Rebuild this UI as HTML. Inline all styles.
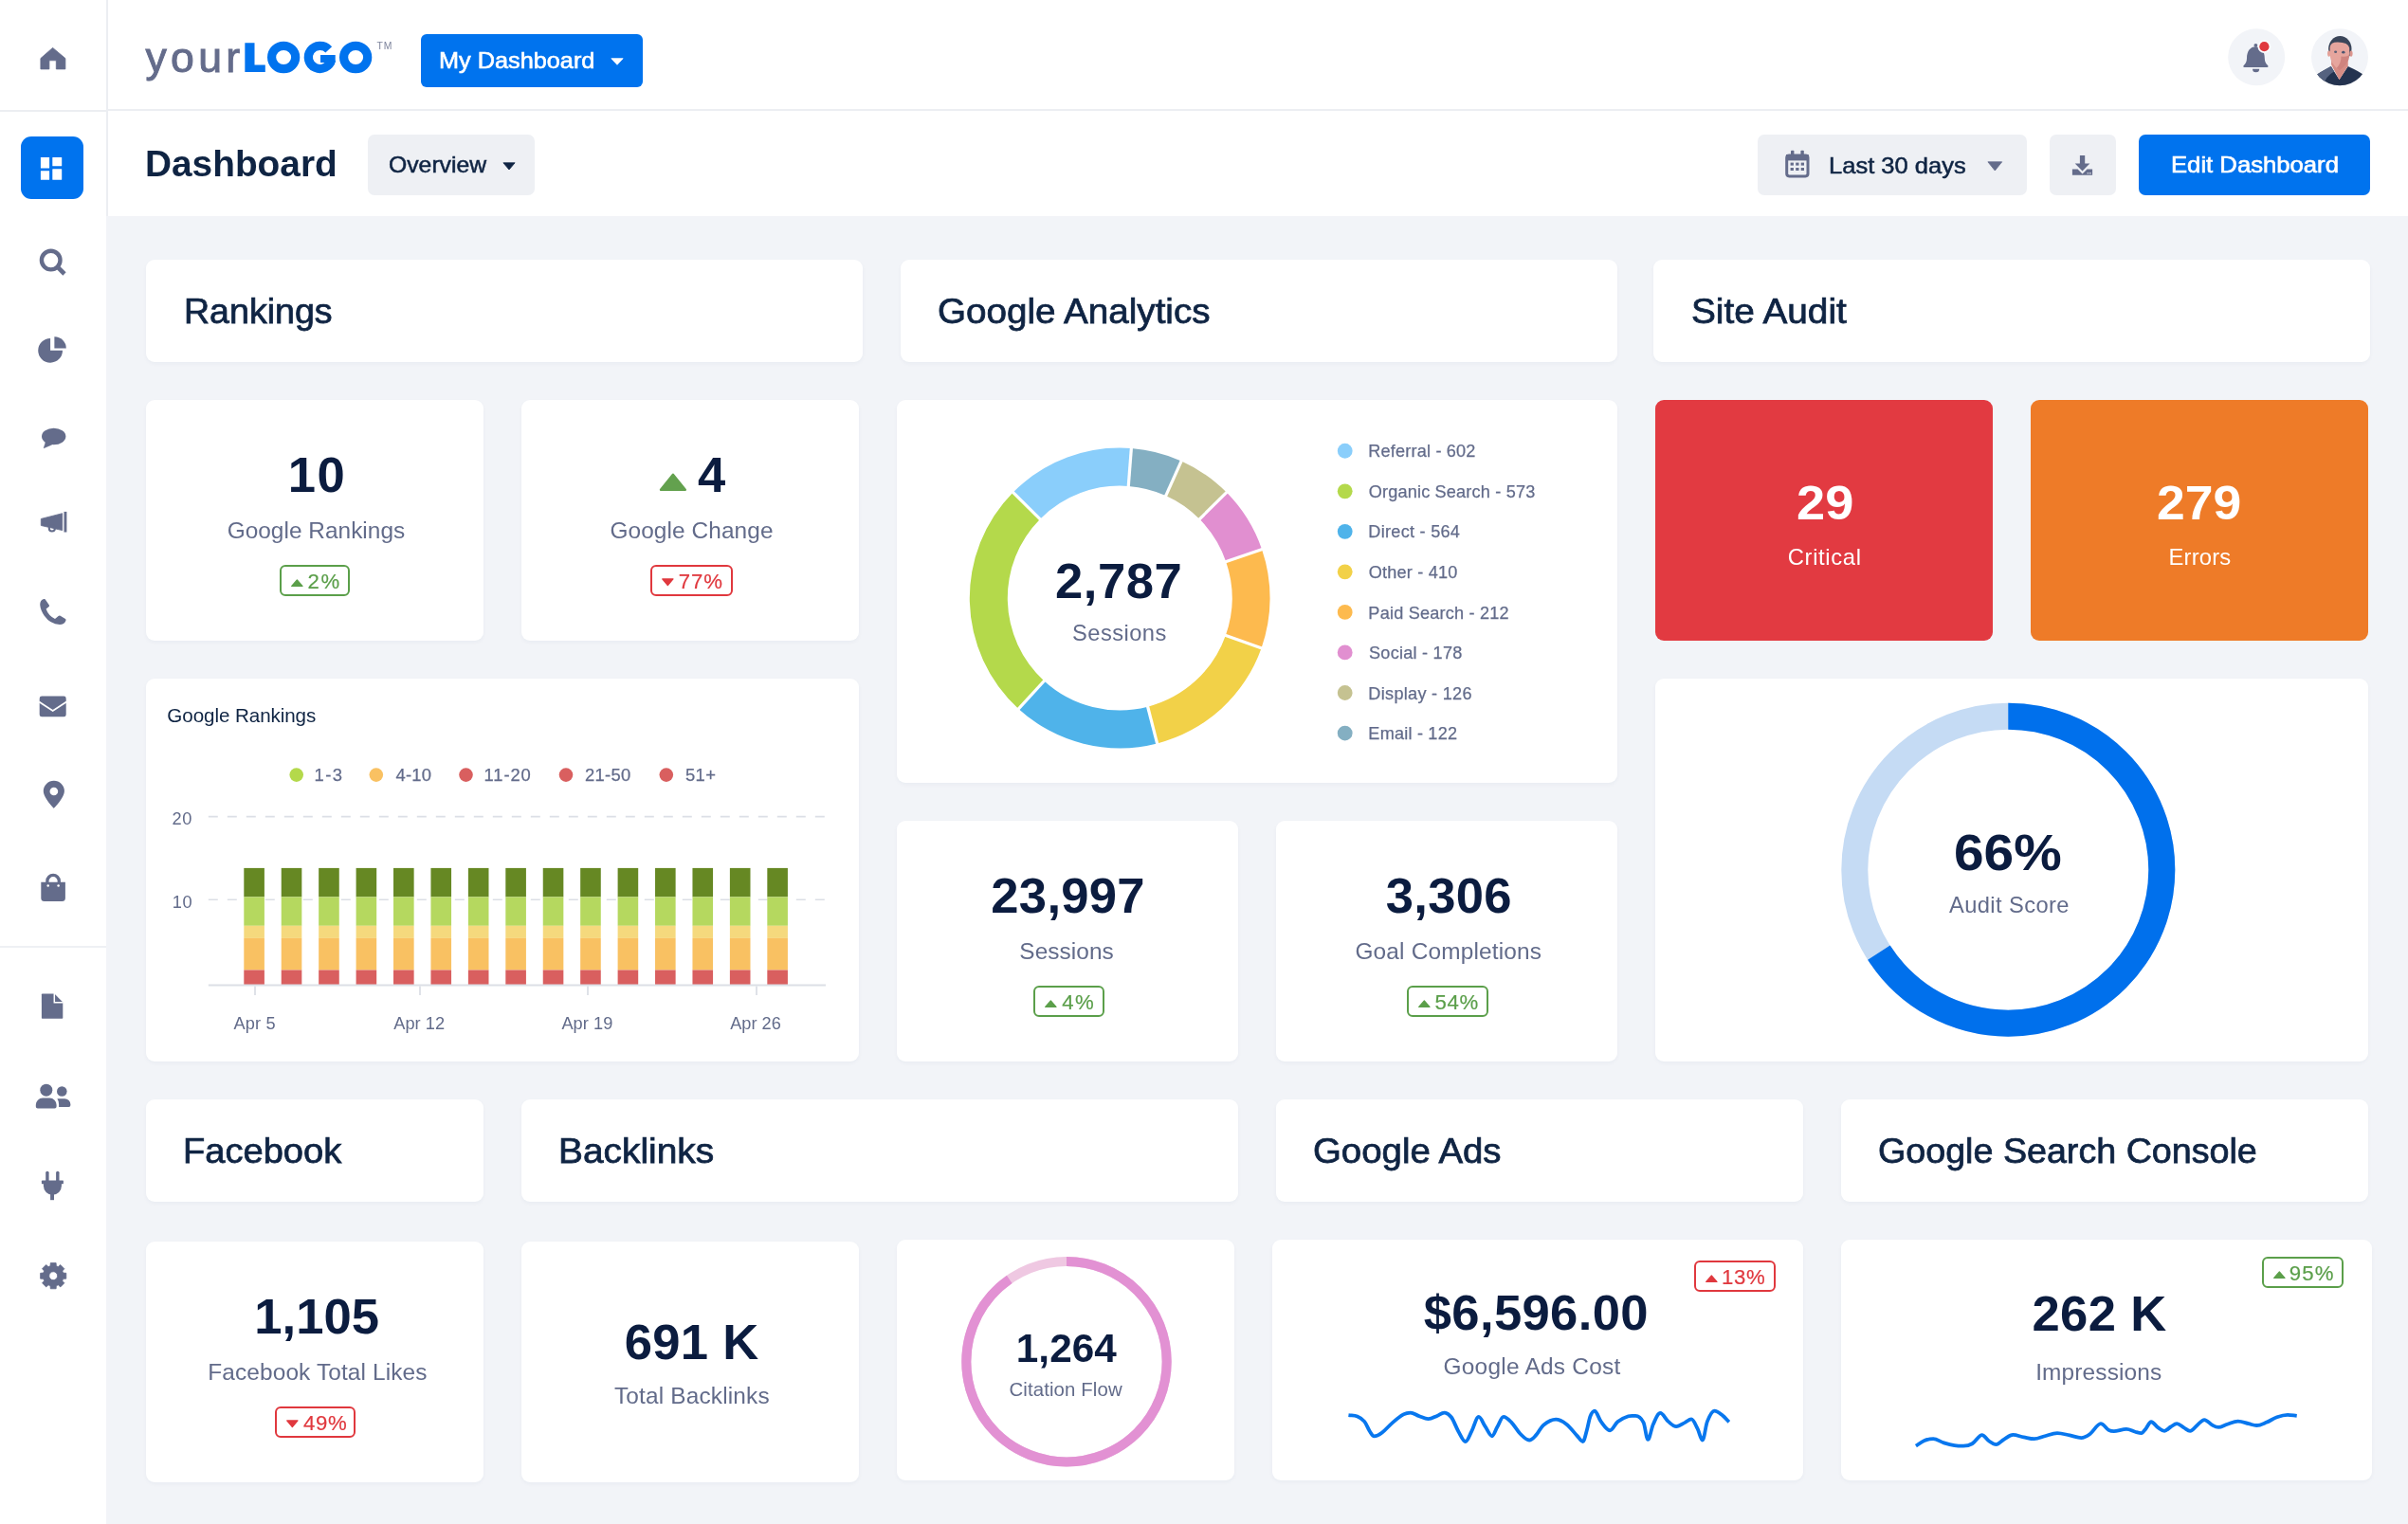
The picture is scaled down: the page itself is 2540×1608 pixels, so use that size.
<!DOCTYPE html>
<html lang="en"><head><meta charset="utf-8"><title>Dashboard</title>
<style>
*{box-sizing:border-box;margin:0;padding:0}
html,body{width:2540px;height:1608px;overflow:hidden;background:#f2f4f8;font-family:"Liberation Sans",sans-serif;}
#app{position:relative;width:2540px;height:1608px;overflow:hidden;background:#f2f4f8;will-change:transform}
.abs{position:absolute}
.t{position:absolute;white-space:nowrap}
.card{position:absolute;background:#fff;border-radius:9px;box-shadow:0 2px 4px rgba(30,50,90,.04)}
.badge{position:absolute;border:2px solid;border-radius:6px;background:#fff}
aside{position:absolute;left:0;top:0;width:112px;height:1608px;background:#fff}
header{position:absolute;left:112px;top:0;width:2428px;height:117px;background:#fff;border-bottom:2px solid #eceef2}
.sub{position:absolute;left:112px;top:117px;width:2428px;height:111px;background:#fff}
.btn{position:absolute;border-radius:7px}
svg{position:absolute;overflow:visible}
</style></head><body><div id="app">
<header></header><div class="sub"></div><aside></aside>
<div class="abs" style="left:112px;top:0;width:2px;height:228px;background:#eceef2"></div>
<div class="abs" style="left:0;top:116px;width:112px;height:2px;background:#eceef2"></div>
<div class="abs" style="left:0;top:998px;width:112px;height:2px;background:#eef0f4"></div>
<div class="abs" style="left:22px;top:144px;width:66px;height:66px;border-radius:11px;background:#0073ee"></div>
<div class="t" style="top:38.75px;font-size:44.6px;line-height:44.6px;color:#646c8b;-webkit-text-stroke:0.95px #646c8b;letter-spacing:4.300px;left:153.50px;"><span>your</span></div>
<svg style="left:0;top:0" width="440" height="110" viewBox="0 0 440 110">
<path d="M258.35 45.2 H268.5 V68.5 H279.8 V75.9 H258.35 Z" fill="#0073ee"/>
<ellipse cx="299.15" cy="60.5" rx="12.55" ry="12.15" fill="none" stroke="#0073ee" stroke-width="9.2"/>
<ellipse cx="375.15" cy="60.5" rx="12.55" ry="12.15" fill="none" stroke="#0073ee" stroke-width="9.2"/>
<path d="M346.74 52.27 A12.3 12.1 0 1 0 349.63 63.06" fill="none" stroke="#0073ee" stroke-width="9.2"/>
<path d="M338 58 H353.7 V64 Q353.5 66.5 352.3 68.5 L345 66 V66.1 H338 Z" fill="#0073ee"/>
</svg>
<div class="t" style="top:43.95px;font-size:10.4px;line-height:10.4px;color:#7d849c;letter-spacing:0.834px;left:397.46px;"><span>TM</span></div>
<div class="btn" style="left:444px;top:36px;width:234px;height:56px;background:#0073ee;border-radius:6px"></div>
<div class="t" style="top:52.70px;font-size:23.6px;line-height:23.6px;color:#fff;-webkit-text-stroke:0.6px #fff;left:463.46px;transform:scaleX(1.0712);transform-origin:0 0;"><span>My Dashboard</span></div>
<svg style="left:643.5px;top:61px" width="14" height="8" viewBox="0 0 14 8"><path d="M0.9 0.7 H13.1 L7 7.3 Z" fill="#fff" stroke="#fff" stroke-width="0.8" stroke-linejoin="round"/></svg>
<div class="t" style="top:154.10px;font-size:38.3px;line-height:38.3px;color:#0f2443;font-weight:700;left:153.40px;transform:scaleX(1.0133);transform-origin:0 0;"><span>Dashboard</span></div>
<div class="btn" style="left:388px;top:142px;width:176px;height:64px;background:#eef0f4"></div>
<div class="t" style="top:162.85px;font-size:23.2px;line-height:23.2px;color:#0f2443;-webkit-text-stroke:0.5px #0f2443;left:410.22px;transform:scaleX(1.0672);transform-origin:0 0;"><span>Overview</span></div>
<svg style="left:529.6px;top:171px" width="14" height="9" viewBox="0 0 14 9"><path d="M0.9 0.8 H13.1 L7 8 Z" fill="#0f2443" stroke="#0f2443" stroke-width="0.8" stroke-linejoin="round"/></svg>
<div class="btn" style="left:1854px;top:142px;width:284px;height:64px;background:#eef0f4"></div>
<div class="t" style="top:163.85px;font-size:23.2px;line-height:23.2px;color:#0f2443;-webkit-text-stroke:0.5px #0f2443;left:1928.98px;transform:scaleX(1.1005);transform-origin:0 0;"><span>Last 30 days</span></div>
<svg style="left:2096px;top:169.8px" width="17" height="11" viewBox="0 0 17 11"><path d="M0.9 0.8 H15.7 L8.3 10 Z" fill="#646c8b" stroke="#646c8b" stroke-width="0.8" stroke-linejoin="round"/></svg>
<div class="btn" style="left:2162px;top:142px;width:70px;height:64px;background:#eef0f4"></div>
<div class="btn" style="left:2256px;top:142px;width:244px;height:64px;background:#0073ee"></div>
<div class="t" style="top:163.25px;font-size:23.4px;line-height:23.4px;color:#fff;-webkit-text-stroke:0.6px #fff;left:2289.67px;transform:scaleX(1.0974);transform-origin:0 0;"><span>Edit Dashboard</span></div>
<svg style="left:0;top:0" width="2540" height="230" viewBox="0 0 2540 230">
<g fill="#646c8b">
<rect x="1884.7" y="163.9" width="22.3" height="22" rx="2.6" fill="none" stroke="#646c8b" stroke-width="3"/>
<rect x="1884" y="163" width="23.7" height="6.4"/>
<rect x="1889" y="158.7" width="3.4" height="6" rx="0.8"/><rect x="1899.4" y="158.7" width="3.4" height="6" rx="0.8"/>
<rect x="1888.6" y="171.6" width="3.3" height="3"/><rect x="1894.2" y="171.6" width="3.3" height="3"/><rect x="1899.7" y="171.6" width="3.3" height="3"/>
<rect x="1888.6" y="177" width="3.3" height="3"/><rect x="1894.2" y="177" width="3.3" height="3"/><rect x="1899.7" y="177" width="3.3" height="3"/>
<path d="M2193.9 164 H2199.2 V172.6 H2204.4 L2196.55 180.6 L2188.7 172.6 H2193.9 Z"/>
<path d="M2185.9 178.6 H2191.6 L2196.55 183.4 L2201.5 178.6 H2207.1 V184.8 H2185.9 Z"/>
</g>
<rect x="2201.6" y="182" width="1.7" height="1.5" fill="#c3c7d4"/><rect x="2204" y="182" width="1.7" height="1.5" fill="#c3c7d4"/>
</svg>
<svg style="left:2340px;top:20px" width="180" height="80" viewBox="2340 20 180 80">
<circle cx="2380.2" cy="60.2" r="30" fill="#f2f4f8"/>
<g fill="#646c8b">
<circle cx="2379.4" cy="47.8" r="1.9"/>
<path d="M2370 61.5 C2370 54 2373.6 49.2 2379.4 49.2 C2385.2 49.2 2388.8 54 2388.8 61.5 C2388.8 65.2 2390.2 67.2 2392.3 69.2 Q2393.2 71 2391.4 71 H2367.4 Q2365.6 71 2366.5 69.2 C2368.6 67.2 2370 65.2 2370 61.5 Z"/>
<path d="M2376 72.8 H2383.2 A3.6 3.6 0 0 1 2376 72.8 Z"/>
</g>
<circle cx="2388.4" cy="49.2" r="6.9" fill="#fbfbfd"/>
<circle cx="2388.4" cy="49.2" r="5.1" fill="#e0383e"/>
<clipPath id="av"><circle cx="2468" cy="60.2" r="30"/></clipPath>
<g clip-path="url(#av)">
<rect x="2438" y="30" width="60" height="61" fill="#f2f4f8"/>
<path d="M2443 92 V79.5 Q2446 76.8 2458.8 70 L2467.5 84 L2476.7 70 Q2490 76 2493.5 79.5 V92 Z" fill="#24334f"/>
<path d="M2443 92 V79.5 Q2446 76.8 2458.8 70 L2462 75.5 Q2452 81 2450.5 92 Z" fill="#55627f"/>
<path d="M2459 68 L2459.4 60 H2476.6 L2476.8 69.5 L2467.5 84.2 Z" fill="#d78d85"/>
<ellipse cx="2468.3" cy="51.6" rx="12.2" ry="13.6" fill="#3a4559"/>
<ellipse cx="2456.6" cy="56.6" rx="1.6" ry="3.1" fill="#e4a198"/><ellipse cx="2480" cy="56.6" rx="1.6" ry="3.1" fill="#dc968e"/>
<path d="M2457.6 50 Q2458.4 44.4 2466 44.6 Q2477 44.8 2478.2 50.5 V58 Q2477.8 67.5 2468 74.5 Q2458.2 67.5 2457.6 58 Z" fill="#e6a59d"/>
<path d="M2469.5 59.5 Q2477.6 60.5 2478.1 56.5 V58 Q2477.7 67.5 2468 74.5 Q2466.2 73.2 2464.8 71.8 Q2469.5 67 2469.5 59.5 Z" fill="#c97c78" opacity=".8"/>
<ellipse cx="2463.6" cy="54.8" rx="1.5" ry="1.2" fill="#5b5f75"/><ellipse cx="2471.8" cy="55.2" rx="1.7" ry="1.4" fill="#4d5570"/>
</g>
</svg>
<svg style="left:0;top:0" width="112" height="1608" viewBox="0 0 112 1608">
<g fill="#646c8b" stroke="none">
<path d="M55.6 50.4 L68.9 61.6 V72.9 H59.3 V63.8 H51.9 V72.9 H42.9 V61.6 Z" stroke="#646c8b" stroke-width="0.8" stroke-linejoin="round"/>
<g fill="#fff"><rect x="42.9" y="166" width="9.2" height="11.5" rx=".5"/><rect x="42.9" y="180.2" width="9.2" height="9.5" rx=".5"/><rect x="55.3" y="166" width="9.9" height="9.3" rx=".5"/><rect x="55.3" y="178.2" width="9.9" height="11.5" rx=".5"/></g>
<circle cx="53.7" cy="274.6" r="9.8" fill="none" stroke="#646c8b" stroke-width="4.4"/>
<path d="M60.6 281.6 L68 289" stroke="#646c8b" stroke-width="4.6" fill="none"/>
<path d="M53.1 369.7 V356.9 A12.9 12.9 0 1 0 66 369.7 Z"/>
<path d="M57.4 367.4 V355.2 A12.3 12.3 0 0 1 69.8 367.4 Z"/>
<ellipse cx="56.7" cy="460.5" rx="12.7" ry="8.7"/>
<path d="M48.3 466 L46.2 472.8 L54.5 469.2 Z" stroke="#646c8b" stroke-width="0.6" stroke-linejoin="round"/>
<path d="M43.3 547.4 L65.7 541.7 V559.6 L43.3 554.5 Z" stroke="#646c8b" stroke-width="0.8" stroke-linejoin="round"/>
<rect x="67.5" y="539.9" width="2.9" height="21.6"/>
<circle cx="54.85" cy="557.4" r="3.05" fill="none" stroke="#646c8b" stroke-width="2.1"/>
<path d="M47.6 632.3 L51.9 638.4 Q52.4 639.4 51.4 640.2 L48.6 642.4 Q51 649.5 58 652.9 L61.6 649.9 Q62.6 649.1 63.6 649.7 L69 653 Q69.9 653.8 69.4 654.9 Q67.8 658.6 63 659 Q53 658.6 46.6 649.5 Q42.6 643.5 42.2 638 Q42.3 633.3 46.2 632.1 Q47.1 631.9 47.6 632.3 Z"/>
<rect x="41.7" y="734.6" width="28" height="21.7" rx="2.4"/>
<path d="M41.2 740.4 L55.7 749.9 L70.2 740.4" fill="none" stroke="#fff" stroke-width="1.8"/>
<path fill-rule="evenodd" d="M56.85 852.8 C56.85 852.8 45.8 841.6 45.8 834.7 A11.05 11.05 0 0 1 67.9 834.7 C67.9 841.6 56.85 852.8 56.85 852.8 Z M61.2 835 A4.35 4.35 0 1 0 52.5 835 A4.35 4.35 0 1 0 61.2 835 Z"/>
<path d="M43.3 930.8 H68.9 V947.5 A3.5 3.5 0 0 1 65.4 951 H46.8 A3.5 3.5 0 0 1 43.3 947.5 Z"/>
<path d="M49.9 933 V929.6 A6.2 6.2 0 0 1 62.3 929.6 V933" fill="none" stroke="#646c8b" stroke-width="3.3"/>
<circle cx="50.7" cy="934.4" r="1.25" fill="#fff"/><circle cx="61.6" cy="934.4" r="1.25" fill="#fff"/>
<path d="M44.6 1048.5 H57.4 L66.3 1057.6 V1074.1 Q66.3 1074.8 65.6 1074.8 H44.6 Q43.9 1074.8 43.9 1074.1 V1049.2 Q43.9 1048.5 44.6 1048.5 Z"/>
<path d="M57.3 1048 V1057.7 H66.8" fill="none" stroke="#fff" stroke-width="1.5"/>
<circle cx="48.8" cy="1150.2" r="6.5"/>
<path d="M37.8 1167.4 V1165.8 A7.2 7.2 0 0 1 45 1158.6 H52.4 A7.2 7.2 0 0 1 59.6 1165.8 V1167.4 A2 2 0 0 1 57.6 1169.4 H39.8 A2 2 0 0 1 37.8 1167.4 Z"/>
<circle cx="65.3" cy="1151.5" r="5.3"/>
<path d="M60.4 1159.2 H68.2 A6.2 6.2 0 0 1 74.4 1165.4 V1166 A1.9 1.9 0 0 1 72.5 1167.9 H62.1 V1165.3 Q62.1 1161.6 60.4 1159.2 Z"/>
<rect x="48.2" y="1235.7" width="3.4" height="11" rx="1.5"/><rect x="59.1" y="1235.7" width="3.4" height="11" rx="1.5"/>
<rect x="43.9" y="1245.6" width="23" height="3.6" rx=".6"/>
<path d="M45.9 1249 H64.9 V1251.3 A9.5 9.5 0 0 1 45.9 1251.3 Z"/>
<rect x="53.1" y="1258" width="3.9" height="8.2"/>
<path fill-rule="evenodd" d="M53.08 1335.76 L53.27 1332.61 L59.13 1332.61 L59.32 1335.76 L61.38 1336.61 L63.74 1334.52 L67.88 1338.66 L65.79 1341.02 L66.64 1343.08 L69.79 1343.27 L69.79 1349.13 L66.64 1349.32 L65.79 1351.38 L67.88 1353.74 L63.74 1357.88 L61.38 1355.79 L59.32 1356.64 L59.13 1359.79 L53.27 1359.79 L53.08 1356.64 L51.02 1355.79 L48.66 1357.88 L44.52 1353.74 L46.61 1351.38 L45.76 1349.32 L42.61 1349.13 L42.61 1343.27 L45.76 1343.08 L46.61 1341.02 L44.52 1338.66 L48.66 1334.52 L51.02 1336.61 Z M60.60 1346.20 A4.4 4.4 0 1 0 51.80 1346.20 A4.4 4.4 0 1 0 60.60 1346.20 Z" stroke="#646c8b" stroke-width="0.8" stroke-linejoin="round"/>
</g></svg>
<div class="card" style="left:154px;top:274px;width:756.0px;height:108.0px;"></div>
<div class="t" style="top:311.25px;font-size:36px;line-height:36px;color:#0f2443;-webkit-text-stroke:0.75px #0f2443;left:193.97px;transform:scaleX(1.0430);transform-origin:0 0;"><span>Rankings</span></div>
<div class="card" style="left:950px;top:274px;width:756.0px;height:108.0px;"></div>
<div class="t" style="top:311.25px;font-size:36px;line-height:36px;color:#0f2443;-webkit-text-stroke:0.75px #0f2443;left:988.63px;transform:scaleX(1.0723);transform-origin:0 0;"><span>Google Analytics</span></div>
<div class="card" style="left:1744px;top:274px;width:756.0px;height:108.0px;"></div>
<div class="t" style="top:311.25px;font-size:36px;line-height:36px;color:#0f2443;-webkit-text-stroke:0.75px #0f2443;left:1783.67px;transform:scaleX(1.0767);transform-origin:0 0;"><span>Site Audit</span></div>
<div class="card" style="left:154px;top:1160px;width:356.0px;height:108.0px;"></div>
<div class="t" style="top:1197.25px;font-size:36px;line-height:36px;color:#0f2443;-webkit-text-stroke:0.75px #0f2443;left:192.61px;transform:scaleX(1.0578);transform-origin:0 0;"><span>Facebook</span></div>
<div class="card" style="left:550px;top:1160px;width:756.0px;height:108.0px;"></div>
<div class="t" style="top:1197.25px;font-size:36px;line-height:36px;color:#0f2443;-webkit-text-stroke:0.75px #0f2443;left:589.01px;transform:scaleX(1.0797);transform-origin:0 0;"><span>Backlinks</span></div>
<div class="card" style="left:1346px;top:1160px;width:556.0px;height:108.0px;"></div>
<div class="t" style="top:1197.25px;font-size:36px;line-height:36px;color:#0f2443;-webkit-text-stroke:0.75px #0f2443;left:1385.42px;transform:scaleX(1.0667);transform-origin:0 0;"><span>Google Ads</span></div>
<div class="card" style="left:1942px;top:1160px;width:556.0px;height:108.0px;"></div>
<div class="t" style="top:1197.25px;font-size:36px;line-height:36px;color:#0f2443;-webkit-text-stroke:0.75px #0f2443;left:1981.42px;transform:scaleX(1.0459);transform-origin:0 0;"><span>Google Search Console</span></div>
<div class="card" style="left:154px;top:422px;width:356.0px;height:254.0px;"></div>
<div class="t" style="top:475.45px;font-size:52.6px;line-height:52.6px;color:#0b1c3f;font-weight:700;letter-spacing:1.307px;left:303.87px;"><span>10</span></div>
<div class="t" style="top:547.75px;font-size:24.4px;line-height:24.4px;color:#626b8a;letter-spacing:0.030px;left:239.66px;"><span>Google Rankings</span></div>
<div class="badge" style="left:294.5px;top:596.3px;width:74.3px;height:33.0px;border-color:#5b9f4a"></div>
<svg style="left:306.5px;top:611.3px" width="13" height="9" viewBox="0 0 13 9"><path d="M6.35 0.9 L12 7.5 H0.7 Z" fill="#5b9f4a" stroke="#5b9f4a" stroke-width="1.2" stroke-linejoin="round"/></svg>
<div class="t" style="top:603.05px;font-size:22.2px;line-height:22.2px;color:#5b9f4a;-webkit-text-stroke:0.2px #5b9f4a;letter-spacing:1.609px;left:324.47px;"><span>2%</span></div>
<div class="card" style="left:550px;top:422px;width:356.0px;height:254.0px;"></div>
<div class="t" style="top:475.45px;font-size:52.6px;line-height:52.6px;color:#0b1c3f;font-weight:700;left:736.12px;"><span>4</span></div>
<div class="t" style="top:547.75px;font-size:24.4px;line-height:24.4px;color:#626b8a;letter-spacing:0.094px;left:643.46px;"><span>Google Change</span></div>
<div class="badge" style="left:686.4px;top:596.3px;width:86.2px;height:33.0px;border-color:#e0383e"></div>
<svg style="left:698.4px;top:610.2px" width="13" height="9" viewBox="0 0 13 9"><path d="M0.7 0.9 H12 L6.35 7.7 Z" fill="#e0383e" stroke="#e0383e" stroke-width="1.2" stroke-linejoin="round"/></svg>
<div class="t" style="top:603.05px;font-size:22.2px;line-height:22.2px;color:#e0383e;-webkit-text-stroke:0.2px #e0383e;letter-spacing:0.825px;left:715.82px;"><span>77%</span></div>
<svg style="left:695px;top:498px" width="30" height="21" viewBox="0 0 30 21"><path d="M14.9 2.7 L27.8 18.7 H2 Z" fill="#63a14e" stroke="#63a14e" stroke-width="2.4" stroke-linejoin="round"/></svg>
<div class="card" style="left:946px;top:866px;width:360.0px;height:254.0px;"></div>
<div class="t" style="top:919.45px;font-size:52.6px;line-height:52.6px;color:#0b1c3f;font-weight:700;letter-spacing:0.278px;left:1045.34px;"><span>23,997</span></div>
<div class="t" style="top:991.75px;font-size:24.4px;line-height:24.4px;color:#626b8a;letter-spacing:0.069px;left:1075.30px;"><span>Sessions</span></div>
<div class="badge" style="left:1090.4px;top:1040.3px;width:74.2px;height:33.0px;border-color:#5b9f4a"></div>
<svg style="left:1102.4px;top:1055.3px" width="13" height="9" viewBox="0 0 13 9"><path d="M6.35 0.9 L12 7.5 H0.7 Z" fill="#5b9f4a" stroke="#5b9f4a" stroke-width="1.2" stroke-linejoin="round"/></svg>
<div class="t" style="top:1047.05px;font-size:22.2px;line-height:22.2px;color:#5b9f4a;-webkit-text-stroke:0.2px #5b9f4a;letter-spacing:1.398px;left:1120.22px;"><span>4%</span></div>
<div class="card" style="left:1346px;top:866px;width:360.0px;height:254.0px;"></div>
<div class="t" style="top:919.45px;font-size:52.6px;line-height:52.6px;color:#0b1c3f;font-weight:700;letter-spacing:0.304px;left:1461.68px;"><span>3,306</span></div>
<div class="t" style="top:991.75px;font-size:24.4px;line-height:24.4px;color:#626b8a;letter-spacing:0.176px;left:1429.46px;"><span>Goal Completions</span></div>
<div class="badge" style="left:1484.3px;top:1040.3px;width:86.1px;height:33.0px;border-color:#5b9f4a"></div>
<svg style="left:1496.3px;top:1055.3px" width="13" height="9" viewBox="0 0 13 9"><path d="M6.35 0.9 L12 7.5 H0.7 Z" fill="#5b9f4a" stroke="#5b9f4a" stroke-width="1.2" stroke-linejoin="round"/></svg>
<div class="t" style="top:1047.05px;font-size:22.2px;line-height:22.2px;color:#5b9f4a;-webkit-text-stroke:0.2px #5b9f4a;letter-spacing:0.676px;left:1513.51px;"><span>54%</span></div>
<div class="card" style="left:154px;top:1310px;width:356.0px;height:254.0px;"></div>
<div class="t" style="top:1363.45px;font-size:52.6px;line-height:52.6px;color:#0b1c3f;font-weight:700;letter-spacing:-0.007px;left:268.36px;"><span>1,105</span></div>
<div class="t" style="top:1435.65px;font-size:24.4px;line-height:24.4px;color:#626b8a;letter-spacing:0.131px;left:219.29px;"><span>Facebook Total Likes</span></div>
<div class="badge" style="left:290.2px;top:1484.3px;width:85.0px;height:33.0px;border-color:#e0383e"></div>
<svg style="left:302.2px;top:1498.2px" width="13" height="9" viewBox="0 0 13 9"><path d="M0.7 0.9 H12 L6.35 7.7 Z" fill="#e0383e" stroke="#e0383e" stroke-width="1.2" stroke-linejoin="round"/></svg>
<div class="t" style="top:1491.05px;font-size:22.2px;line-height:22.2px;color:#e0383e;-webkit-text-stroke:0.2px #e0383e;letter-spacing:0.627px;left:320.03px;"><span>49%</span></div>
<div class="card" style="left:550px;top:1310px;width:356.0px;height:254.0px;"></div>
<div class="t" style="top:1389.85px;font-size:52.6px;line-height:52.6px;color:#0b1c3f;font-weight:700;letter-spacing:0.259px;left:658.84px;"><span>691 K</span></div>
<div class="t" style="top:1461.05px;font-size:24.4px;line-height:24.4px;color:#626b8a;letter-spacing:0.163px;left:648.03px;"><span>Total Backlinks</span></div>
<div class="card" style="left:1746px;top:422px;width:356.0px;height:254.0px;background:#e23a41;box-shadow:none"></div>
<div class="t" style="top:506.25px;font-size:50px;line-height:50px;color:#fff;font-weight:700;left:1894.70px;transform:scaleX(1.0835);transform-origin:0 0;"><span>29</span></div>
<div class="t" style="top:575.85px;font-size:23.8px;line-height:23.8px;color:#fff;letter-spacing:0.641px;left:1885.75px;"><span>Critical</span></div>
<div class="card" style="left:2142px;top:422px;width:356.0px;height:254.0px;background:#ee7b28;box-shadow:none"></div>
<div class="t" style="top:506.25px;font-size:50px;line-height:50px;color:#fff;font-weight:700;left:2275.27px;transform:scaleX(1.0696);transform-origin:0 0;"><span>279</span></div>
<div class="t" style="top:575.85px;font-size:23.8px;line-height:23.8px;color:#fff;letter-spacing:0.178px;left:2287.51px;"><span>Errors</span></div>
<div class="card" style="left:946px;top:422px;width:760.0px;height:404.0px;"></div>
<svg style="left:0;top:0" width="2540" height="1608" viewBox="0 0 2540 1608"><path d="M1068.61 519.58 A158.4 158.4 0 0 1 1193.35 473.07 L1190.28 512.95 A118.4 118.4 0 0 0 1097.04 547.72 Z" fill="#8acefb"/><path d="M1193.35 473.07 A158.4 158.4 0 0 1 1246.13 486.52 L1229.73 523.00 A118.4 118.4 0 0 0 1190.28 512.95 Z" fill="#84afc2"/><path d="M1246.13 486.52 A158.4 158.4 0 0 1 1293.79 519.58 L1265.36 547.72 A118.4 118.4 0 0 0 1229.73 523.00 Z" fill="#c5c291"/><path d="M1293.79 519.58 A158.4 158.4 0 0 1 1331.06 579.69 L1293.22 592.65 A118.4 118.4 0 0 0 1265.36 547.72 Z" fill="#e18fd0"/><path d="M1331.06 579.69 A158.4 158.4 0 0 1 1330.51 683.88 L1292.81 670.52 A118.4 118.4 0 0 0 1293.22 592.65 Z" fill="#fdba4e"/><path d="M1330.51 683.88 A158.4 158.4 0 0 1 1220.59 784.42 L1210.64 745.68 A118.4 118.4 0 0 0 1292.81 670.52 Z" fill="#f2d148"/><path d="M1220.59 784.42 A158.4 158.4 0 0 1 1074.39 747.97 L1101.36 718.43 A118.4 118.4 0 0 0 1210.64 745.68 Z" fill="#4fb3ea"/><path d="M1074.39 747.97 A158.4 158.4 0 0 1 1068.61 519.58 L1097.04 547.72 A118.4 118.4 0 0 0 1101.36 718.43 Z" fill="#b4d94b"/><path d="M1067.19 518.18 L1098.46 549.12" stroke="#fff" stroke-width="3.2"/><path d="M1193.51 471.07 L1190.13 514.94" stroke="#fff" stroke-width="3.2"/><path d="M1246.95 484.70 L1228.92 524.83" stroke="#fff" stroke-width="3.2"/><path d="M1295.21 518.18 L1263.94 549.12" stroke="#fff" stroke-width="3.2"/><path d="M1332.95 579.04 L1291.32 593.30" stroke="#fff" stroke-width="3.2"/><path d="M1332.40 684.54 L1290.92 669.86" stroke="#fff" stroke-width="3.2"/><path d="M1221.09 786.36 L1210.15 743.74" stroke="#fff" stroke-width="3.2"/><path d="M1073.04 749.45 L1102.71 716.96" stroke="#fff" stroke-width="3.2"/><circle cx="1418.7" cy="475.75" r="7.9" fill="#8acefb"/><circle cx="1418.7" cy="518.29" r="7.9" fill="#b4d94b"/><circle cx="1418.7" cy="560.83" r="7.9" fill="#4fb3ea"/><circle cx="1418.7" cy="603.37" r="7.9" fill="#f2d148"/><circle cx="1418.7" cy="645.91" r="7.9" fill="#fdba4e"/><circle cx="1418.7" cy="688.45" r="7.9" fill="#e18fd0"/><circle cx="1418.7" cy="730.99" r="7.9" fill="#c5c291"/><circle cx="1418.7" cy="773.53" r="7.9" fill="#84afc2"/></svg>
<div class="t" style="top:467.40px;font-size:18.1px;line-height:18.1px;color:#626b8a;-webkit-text-stroke:0.25px #626b8a;letter-spacing:0.185px;left:1443.36px;"><span>Referral - 602</span></div>
<div class="t" style="top:509.94px;font-size:18.1px;line-height:18.1px;color:#626b8a;-webkit-text-stroke:0.25px #626b8a;letter-spacing:0.180px;left:1443.80px;"><span>Organic Search - 573</span></div>
<div class="t" style="top:552.48px;font-size:18.1px;line-height:18.1px;color:#626b8a;-webkit-text-stroke:0.25px #626b8a;letter-spacing:0.273px;left:1443.36px;"><span>Direct - 564</span></div>
<div class="t" style="top:595.02px;font-size:18.1px;line-height:18.1px;color:#626b8a;-webkit-text-stroke:0.25px #626b8a;letter-spacing:0.211px;left:1443.80px;"><span>Other - 410</span></div>
<div class="t" style="top:637.56px;font-size:18.1px;line-height:18.1px;color:#626b8a;-webkit-text-stroke:0.25px #626b8a;letter-spacing:0.217px;left:1443.36px;"><span>Paid Search - 212</span></div>
<div class="t" style="top:680.10px;font-size:18.1px;line-height:18.1px;color:#626b8a;-webkit-text-stroke:0.25px #626b8a;letter-spacing:0.244px;left:1444.02px;"><span>Social - 178</span></div>
<div class="t" style="top:722.64px;font-size:18.1px;line-height:18.1px;color:#626b8a;-webkit-text-stroke:0.25px #626b8a;letter-spacing:0.295px;left:1443.36px;"><span>Display - 126</span></div>
<div class="t" style="top:765.18px;font-size:18.1px;line-height:18.1px;color:#626b8a;-webkit-text-stroke:0.25px #626b8a;letter-spacing:0.210px;left:1443.36px;"><span>Email - 122</span></div>
<div class="t" style="top:586.65px;font-size:52.6px;line-height:52.6px;color:#0b1c3f;font-weight:700;letter-spacing:0.561px;left:1112.91px;"><span>2,787</span></div>
<div class="t" style="top:656.50px;font-size:23.7px;line-height:23.7px;color:#626b8a;letter-spacing:0.452px;left:1131.03px;"><span>Sessions</span></div>
<div class="card" style="left:1746px;top:716px;width:752.0px;height:403.5px;"></div>
<svg style="left:0;top:0" width="2540" height="1608" viewBox="0 0 2540 1608">
<circle cx="2118.3" cy="917.7" r="162" fill="none" stroke="#c5dbf4" stroke-width="28"/>
<circle cx="2118.3" cy="917.7" r="162" fill="none" stroke="#0070ec" stroke-width="28" stroke-dasharray="670.78 1017.88" transform="rotate(-90 2118.3 917.7)"/>
</svg>
<div class="t" style="top:873.20px;font-size:53.5px;line-height:53.5px;color:#0b1c3f;font-weight:700;left:2061.22px;transform:scaleX(1.0616);transform-origin:0 0;"><span>66%</span></div>
<div class="t" style="top:944.40px;font-size:23.7px;line-height:23.7px;color:#626b8a;letter-spacing:0.412px;left:2055.93px;"><span>Audit Score</span></div>
<div class="card" style="left:154px;top:716px;width:752.0px;height:403.5px;"></div>
<div class="t" style="top:744.75px;font-size:20.6px;line-height:20.6px;color:#0f2443;letter-spacing:-0.072px;left:176.34px;"><span>Google Rankings</span></div>
<svg style="left:0;top:0" width="2540" height="1608" viewBox="0 0 2540 1608"><circle cx="312.7" cy="817.6" r="7.3" fill="#b4d94b"/><circle cx="396.8" cy="817.6" r="7.3" fill="#f9c162"/><circle cx="491.5" cy="817.6" r="7.3" fill="#d95f5f"/><circle cx="597" cy="817.6" r="7.3" fill="#d95f5f"/><circle cx="702.8" cy="817.6" r="7.3" fill="#d95f5f"/><path d="M219.8 861.6 H871" stroke="#dcdfe6" stroke-width="1.6" stroke-dasharray="10 10" fill="none"/><path d="M219.8 949.2 H871" stroke="#dcdfe6" stroke-width="1.6" stroke-dasharray="10 10" fill="none"/><rect x="257.30" y="915.9" width="21.6" height="30.50" fill="#668823"/><rect x="257.30" y="946.4" width="21.6" height="30.40" fill="#b5d85f"/><rect x="257.30" y="976.8" width="21.6" height="13.10" fill="#f5d97d"/><rect x="257.30" y="989.9" width="21.6" height="33.60" fill="#f9c162"/><rect x="257.30" y="1023.5" width="21.6" height="15.80" fill="#d95f5f"/><rect x="296.73" y="915.9" width="21.6" height="30.50" fill="#668823"/><rect x="296.73" y="946.4" width="21.6" height="30.40" fill="#b5d85f"/><rect x="296.73" y="976.8" width="21.6" height="13.10" fill="#f5d97d"/><rect x="296.73" y="989.9" width="21.6" height="33.60" fill="#f9c162"/><rect x="296.73" y="1023.5" width="21.6" height="15.80" fill="#d95f5f"/><rect x="336.16" y="915.9" width="21.6" height="30.50" fill="#668823"/><rect x="336.16" y="946.4" width="21.6" height="30.40" fill="#b5d85f"/><rect x="336.16" y="976.8" width="21.6" height="13.10" fill="#f5d97d"/><rect x="336.16" y="989.9" width="21.6" height="33.60" fill="#f9c162"/><rect x="336.16" y="1023.5" width="21.6" height="15.80" fill="#d95f5f"/><rect x="375.59" y="915.9" width="21.6" height="30.50" fill="#668823"/><rect x="375.59" y="946.4" width="21.6" height="30.40" fill="#b5d85f"/><rect x="375.59" y="976.8" width="21.6" height="13.10" fill="#f5d97d"/><rect x="375.59" y="989.9" width="21.6" height="33.60" fill="#f9c162"/><rect x="375.59" y="1023.5" width="21.6" height="15.80" fill="#d95f5f"/><rect x="415.02" y="915.9" width="21.6" height="30.50" fill="#668823"/><rect x="415.02" y="946.4" width="21.6" height="30.40" fill="#b5d85f"/><rect x="415.02" y="976.8" width="21.6" height="13.10" fill="#f5d97d"/><rect x="415.02" y="989.9" width="21.6" height="33.60" fill="#f9c162"/><rect x="415.02" y="1023.5" width="21.6" height="15.80" fill="#d95f5f"/><rect x="454.45" y="915.9" width="21.6" height="30.50" fill="#668823"/><rect x="454.45" y="946.4" width="21.6" height="30.40" fill="#b5d85f"/><rect x="454.45" y="976.8" width="21.6" height="13.10" fill="#f5d97d"/><rect x="454.45" y="989.9" width="21.6" height="33.60" fill="#f9c162"/><rect x="454.45" y="1023.5" width="21.6" height="15.80" fill="#d95f5f"/><rect x="493.88" y="915.9" width="21.6" height="30.50" fill="#668823"/><rect x="493.88" y="946.4" width="21.6" height="30.40" fill="#b5d85f"/><rect x="493.88" y="976.8" width="21.6" height="13.10" fill="#f5d97d"/><rect x="493.88" y="989.9" width="21.6" height="33.60" fill="#f9c162"/><rect x="493.88" y="1023.5" width="21.6" height="15.80" fill="#d95f5f"/><rect x="533.31" y="915.9" width="21.6" height="30.50" fill="#668823"/><rect x="533.31" y="946.4" width="21.6" height="30.40" fill="#b5d85f"/><rect x="533.31" y="976.8" width="21.6" height="13.10" fill="#f5d97d"/><rect x="533.31" y="989.9" width="21.6" height="33.60" fill="#f9c162"/><rect x="533.31" y="1023.5" width="21.6" height="15.80" fill="#d95f5f"/><rect x="572.74" y="915.9" width="21.6" height="30.50" fill="#668823"/><rect x="572.74" y="946.4" width="21.6" height="30.40" fill="#b5d85f"/><rect x="572.74" y="976.8" width="21.6" height="13.10" fill="#f5d97d"/><rect x="572.74" y="989.9" width="21.6" height="33.60" fill="#f9c162"/><rect x="572.74" y="1023.5" width="21.6" height="15.80" fill="#d95f5f"/><rect x="612.17" y="915.9" width="21.6" height="30.50" fill="#668823"/><rect x="612.17" y="946.4" width="21.6" height="30.40" fill="#b5d85f"/><rect x="612.17" y="976.8" width="21.6" height="13.10" fill="#f5d97d"/><rect x="612.17" y="989.9" width="21.6" height="33.60" fill="#f9c162"/><rect x="612.17" y="1023.5" width="21.6" height="15.80" fill="#d95f5f"/><rect x="651.60" y="915.9" width="21.6" height="30.50" fill="#668823"/><rect x="651.60" y="946.4" width="21.6" height="30.40" fill="#b5d85f"/><rect x="651.60" y="976.8" width="21.6" height="13.10" fill="#f5d97d"/><rect x="651.60" y="989.9" width="21.6" height="33.60" fill="#f9c162"/><rect x="651.60" y="1023.5" width="21.6" height="15.80" fill="#d95f5f"/><rect x="691.03" y="915.9" width="21.6" height="30.50" fill="#668823"/><rect x="691.03" y="946.4" width="21.6" height="30.40" fill="#b5d85f"/><rect x="691.03" y="976.8" width="21.6" height="13.10" fill="#f5d97d"/><rect x="691.03" y="989.9" width="21.6" height="33.60" fill="#f9c162"/><rect x="691.03" y="1023.5" width="21.6" height="15.80" fill="#d95f5f"/><rect x="730.46" y="915.9" width="21.6" height="30.50" fill="#668823"/><rect x="730.46" y="946.4" width="21.6" height="30.40" fill="#b5d85f"/><rect x="730.46" y="976.8" width="21.6" height="13.10" fill="#f5d97d"/><rect x="730.46" y="989.9" width="21.6" height="33.60" fill="#f9c162"/><rect x="730.46" y="1023.5" width="21.6" height="15.80" fill="#d95f5f"/><rect x="769.89" y="915.9" width="21.6" height="30.50" fill="#668823"/><rect x="769.89" y="946.4" width="21.6" height="30.40" fill="#b5d85f"/><rect x="769.89" y="976.8" width="21.6" height="13.10" fill="#f5d97d"/><rect x="769.89" y="989.9" width="21.6" height="33.60" fill="#f9c162"/><rect x="769.89" y="1023.5" width="21.6" height="15.80" fill="#d95f5f"/><rect x="809.32" y="915.9" width="21.6" height="30.50" fill="#668823"/><rect x="809.32" y="946.4" width="21.6" height="30.40" fill="#b5d85f"/><rect x="809.32" y="976.8" width="21.6" height="13.10" fill="#f5d97d"/><rect x="809.32" y="989.9" width="21.6" height="33.60" fill="#f9c162"/><rect x="809.32" y="1023.5" width="21.6" height="15.80" fill="#d95f5f"/><path d="M219.8 1039.4 H871" stroke="#dcdfe6" stroke-width="2" fill="none"/><path d="M269 1040.4 V1050" stroke="#dcdfe6" stroke-width="1.8" fill="none"/><path d="M443 1040.4 V1050" stroke="#dcdfe6" stroke-width="1.8" fill="none"/><path d="M620 1040.4 V1050" stroke="#dcdfe6" stroke-width="1.8" fill="none"/><path d="M798 1040.4 V1050" stroke="#dcdfe6" stroke-width="1.8" fill="none"/></svg>
<div class="t" style="top:809.05px;font-size:18.4px;line-height:18.4px;color:#626b8a;-webkit-text-stroke:0.25px #626b8a;letter-spacing:1.452px;left:331.55px;"><span>1-3</span></div>
<div class="t" style="top:809.05px;font-size:18.4px;line-height:18.4px;color:#626b8a;-webkit-text-stroke:0.25px #626b8a;letter-spacing:0.252px;left:417.52px;"><span>4-10</span></div>
<div class="t" style="top:809.05px;font-size:18.4px;line-height:18.4px;color:#626b8a;-webkit-text-stroke:0.25px #626b8a;letter-spacing:0.908px;left:510.55px;"><span>11-20</span></div>
<div class="t" style="top:809.05px;font-size:18.4px;line-height:18.4px;color:#626b8a;-webkit-text-stroke:0.25px #626b8a;letter-spacing:0.313px;left:616.88px;"><span>21-50</span></div>
<div class="t" style="top:809.05px;font-size:18.4px;line-height:18.4px;color:#626b8a;-webkit-text-stroke:0.25px #626b8a;letter-spacing:0.449px;left:722.93px;"><span>51+</span></div>
<div class="t" style="top:854.75px;font-size:18.2px;line-height:18.2px;color:#626b8a;letter-spacing:0.597px;left:181.59px;"><span>20</span></div>
<div class="t" style="top:942.55px;font-size:18.2px;line-height:18.2px;color:#626b8a;letter-spacing:0.562px;left:181.81px;"><span>10</span></div>
<div class="t" style="top:1071.35px;font-size:18.2px;line-height:18.2px;color:#626b8a;letter-spacing:0.179px;left:246.41px;"><span>Apr 5</span></div>
<div class="t" style="top:1071.35px;font-size:18.2px;line-height:18.2px;color:#626b8a;letter-spacing:0.047px;left:415.22px;"><span>Apr 12</span></div>
<div class="t" style="top:1071.35px;font-size:18.2px;line-height:18.2px;color:#626b8a;letter-spacing:0.075px;left:592.41px;"><span>Apr 19</span></div>
<div class="t" style="top:1071.35px;font-size:18.2px;line-height:18.2px;color:#626b8a;letter-spacing:0.029px;left:770.14px;"><span>Apr 26</span></div>
<div class="card" style="left:946px;top:1308px;width:356.0px;height:254.0px;"></div>
<svg style="left:0;top:0" width="2540" height="1608" viewBox="0 0 2540 1608">
<circle cx="1125.0" cy="1436.7" r="105.7" fill="none" stroke="#efc8e2" stroke-width="10"/>
<circle cx="1125.0" cy="1436.7" r="105.7" fill="none" stroke="#e291d3" stroke-width="10" stroke-dasharray="599.38 664.13" transform="rotate(-90 1125.0 1436.7)"/>
</svg>
<div class="t" style="top:1401.50px;font-size:42.3px;line-height:42.3px;color:#0b1c3f;font-weight:700;letter-spacing:0.083px;left:1071.73px;"><span>1,264</span></div>
<div class="t" style="top:1455.85px;font-size:20.4px;line-height:20.4px;color:#626b8a;letter-spacing:0.105px;left:1064.54px;"><span>Citation Flow</span></div>
<div class="card" style="left:1342px;top:1308px;width:560.0px;height:254.0px;"></div>
<div class="card" style="left:1942px;top:1308px;width:560.0px;height:254.0px;"></div>
<svg style="left:0;top:0" width="2540" height="1608" viewBox="0 0 2540 1608">
<path d="M1422.43 1493.17 C1425.85 1493.65 1428.69 1493.25 1431.77 1494.48 C1434.51 1495.58 1436.85 1497.02 1439.25 1499.90 C1441.30 1502.37 1442.97 1507.34 1444.85 1510.18 C1446.56 1512.76 1447.81 1515.41 1449.52 1515.41 C1451.92 1515.41 1454.85 1513.78 1457.93 1511.49 C1461.53 1508.82 1465.03 1504.33 1469.15 1500.84 C1473.26 1497.34 1476.93 1494.31 1480.36 1492.43 C1483.10 1490.92 1485.09 1490.56 1487.83 1490.56 C1490.92 1490.56 1493.75 1493.10 1497.18 1494.29 C1500.60 1495.49 1503.10 1497.10 1506.52 1497.10 C1509.95 1497.10 1512.78 1495.12 1515.87 1493.92 C1518.61 1492.85 1520.60 1490.56 1523.34 1490.56 C1526.08 1490.56 1528.08 1491.63 1530.82 1495.23 C1533.56 1498.83 1535.55 1505.45 1538.29 1510.18 C1541.03 1514.91 1543.20 1521.02 1545.77 1521.02 C1548.17 1521.02 1549.91 1514.66 1552.31 1510.18 C1554.88 1505.38 1557.21 1494.86 1559.78 1494.86 C1562.18 1494.86 1563.93 1501.09 1566.32 1504.57 C1568.89 1508.31 1571.40 1515.23 1573.80 1515.23 C1575.85 1515.23 1577.35 1508.95 1579.41 1505.51 C1581.63 1501.77 1583.55 1494.86 1585.95 1494.86 C1588.69 1494.86 1591.27 1497.69 1594.36 1500.84 C1597.61 1504.16 1600.27 1509.56 1603.70 1512.98 C1607.13 1516.41 1609.96 1519.52 1613.04 1519.52 C1615.79 1519.52 1617.78 1516.83 1620.52 1513.92 C1623.26 1511.00 1625.25 1505.81 1627.99 1503.64 C1631.76 1500.66 1636.62 1497.66 1641.08 1497.66 C1645.19 1497.66 1648.18 1499.55 1652.29 1502.70 C1656.40 1505.86 1660.32 1511.49 1663.50 1514.85 C1665.76 1517.23 1667.78 1521.02 1669.67 1521.02 C1671.18 1521.02 1672.34 1514.14 1673.78 1509.25 C1675.15 1504.58 1676.15 1497.64 1677.52 1494.29 C1679.06 1490.53 1680.48 1488.69 1682.19 1488.69 C1684.25 1488.69 1686.33 1496.80 1688.73 1499.90 C1691.64 1503.67 1694.82 1509.25 1698.08 1509.25 C1701.16 1509.25 1703.40 1502.25 1706.48 1499.90 C1710.08 1497.16 1714.27 1495.39 1717.70 1494.29 C1720.44 1493.42 1722.43 1493.92 1725.17 1493.92 C1728.09 1493.92 1731.18 1496.24 1733.58 1500.84 C1735.30 1504.11 1736.54 1518.96 1738.25 1518.96 C1740.14 1518.96 1741.81 1507.11 1743.86 1502.70 C1746.26 1497.56 1748.60 1490.93 1751.34 1490.93 C1754.25 1490.93 1756.66 1497.30 1759.75 1499.90 C1762.83 1502.50 1765.07 1505.13 1768.16 1505.13 C1771.41 1505.13 1774.59 1502.24 1777.50 1500.84 C1779.90 1499.68 1781.64 1497.47 1784.04 1497.47 C1786.44 1497.47 1788.42 1503.33 1790.58 1507.38 C1792.50 1510.97 1793.93 1519.52 1795.81 1519.52 C1797.66 1519.52 1799.01 1504.46 1800.86 1499.90 C1803.16 1494.25 1805.59 1488.69 1808.33 1488.69 C1811.25 1488.69 1813.90 1491.20 1816.74 1493.36 C1819.35 1495.34 1821.24 1497.86 1823.85 1500.46" fill="none" stroke="#0877ee" stroke-width="3.8" stroke-linejoin="round"/>
<path d="M2020.93 1525.69 C2024.22 1523.63 2026.61 1521.43 2029.90 1520.08 C2033.26 1518.71 2035.82 1518.22 2039.25 1518.22 C2043.01 1518.22 2046.35 1521.06 2050.46 1522.33 C2054.57 1523.59 2057.90 1524.51 2061.67 1525.13 C2065.10 1525.69 2067.59 1525.69 2071.01 1525.69 C2074.44 1525.69 2076.93 1525.28 2080.36 1523.26 C2083.96 1521.14 2087.38 1514.10 2090.64 1514.10 C2093.38 1514.10 2095.37 1518.61 2098.11 1520.46 C2100.85 1522.31 2102.85 1524.20 2105.59 1524.20 C2108.50 1524.20 2110.91 1520.37 2114.00 1518.59 C2117.25 1516.70 2119.92 1513.92 2123.34 1513.92 C2127.11 1513.92 2130.44 1515.56 2134.55 1516.35 C2138.67 1517.13 2141.66 1518.22 2145.77 1518.22 C2149.88 1518.22 2152.87 1516.27 2156.98 1515.23 C2161.43 1514.09 2165.27 1512.05 2170.06 1512.05 C2174.86 1512.05 2178.52 1513.55 2183.14 1514.48 C2187.60 1515.37 2191.35 1517.09 2195.29 1517.09 C2198.72 1517.09 2201.21 1515.47 2204.63 1512.98 C2208.40 1510.24 2212.25 1502.14 2215.85 1502.14 C2218.93 1502.14 2221.69 1507.40 2224.26 1508.87 C2226.31 1510.05 2227.81 1510.18 2229.86 1510.18 C2233.29 1510.18 2238.83 1507.94 2242.95 1507.94 C2246.37 1507.94 2249.38 1509.99 2252.29 1510.74 C2254.69 1511.36 2256.77 1512.05 2258.83 1512.05 C2260.54 1512.05 2261.79 1509.34 2263.50 1507.38 C2265.39 1505.22 2267.05 1500.27 2269.11 1500.27 C2271.51 1500.27 2274.01 1504.69 2276.58 1506.44 C2278.98 1508.07 2280.73 1509.81 2283.12 1509.81 C2285.52 1509.81 2287.27 1506.91 2289.67 1505.51 C2292.06 1504.10 2293.81 1502.14 2296.21 1502.14 C2298.78 1502.14 2301.11 1505.04 2303.68 1506.44 C2306.08 1507.75 2307.82 1509.81 2310.22 1509.81 C2312.79 1509.81 2314.96 1505.80 2317.70 1503.64 C2320.44 1501.48 2322.43 1498.03 2325.17 1498.03 C2328.09 1498.03 2330.84 1502.20 2333.58 1503.64 C2335.98 1504.90 2337.73 1505.88 2340.12 1505.88 C2343.04 1505.88 2346.04 1503.76 2349.47 1502.70 C2353.24 1501.54 2356.57 1499.53 2360.68 1499.53 C2364.79 1499.53 2368.30 1501.32 2371.89 1502.14 C2374.98 1502.85 2377.22 1504.01 2380.30 1504.01 C2383.73 1504.01 2386.81 1502.38 2390.58 1500.84 C2394.52 1499.23 2397.68 1496.70 2401.79 1495.23 C2405.91 1493.76 2409.17 1492.80 2413.01 1492.80 C2416.57 1492.80 2419.16 1493.51 2422.72 1493.92" fill="none" stroke="#0877ee" stroke-width="3.8" stroke-linejoin="round"/>
</svg>
<div class="t" style="top:1359.05px;font-size:52.6px;line-height:52.6px;color:#0b1c3f;font-weight:700;letter-spacing:0.345px;left:1501.75px;"><span>$6,596.00</span></div>
<div class="t" style="top:1430.25px;font-size:24.4px;line-height:24.4px;color:#626b8a;letter-spacing:0.254px;left:1522.58px;"><span>Google Ads Cost</span></div>
<div class="badge" style="left:1786.5px;top:1330.1px;width:86.3px;height:33.0px;border-color:#e0383e"></div>
<svg style="left:1798.5px;top:1345.1px" width="13" height="9" viewBox="0 0 13 9"><path d="M6.35 0.9 L12 7.5 H0.7 Z" fill="#e0383e" stroke="#e0383e" stroke-width="1.2" stroke-linejoin="round"/></svg>
<div class="t" style="top:1336.85px;font-size:22.2px;line-height:22.2px;color:#e0383e;-webkit-text-stroke:0.2px #e0383e;letter-spacing:0.638px;left:1816.02px;"><span>13%</span></div>
<div class="t" style="top:1359.85px;font-size:52.6px;line-height:52.6px;color:#0b1c3f;font-weight:700;letter-spacing:0.378px;left:2143.38px;"><span>262 K</span></div>
<div class="t" style="top:1435.75px;font-size:24.4px;line-height:24.4px;color:#626b8a;letter-spacing:0.164px;left:2147.16px;"><span>Impressions</span></div>
<div class="badge" style="left:2385.6px;top:1326.1px;width:86.8px;height:33.1px;border-color:#5b9f4a"></div>
<svg style="left:2397.6px;top:1341.1px" width="13" height="9" viewBox="0 0 13 9"><path d="M6.35 0.9 L12 7.5 H0.7 Z" fill="#5b9f4a" stroke="#5b9f4a" stroke-width="1.2" stroke-linejoin="round"/></svg>
<div class="t" style="top:1332.85px;font-size:22.2px;line-height:22.2px;color:#5b9f4a;-webkit-text-stroke:0.2px #5b9f4a;letter-spacing:1.181px;left:2414.63px;"><span>95%</span></div>
</div></body></html>
